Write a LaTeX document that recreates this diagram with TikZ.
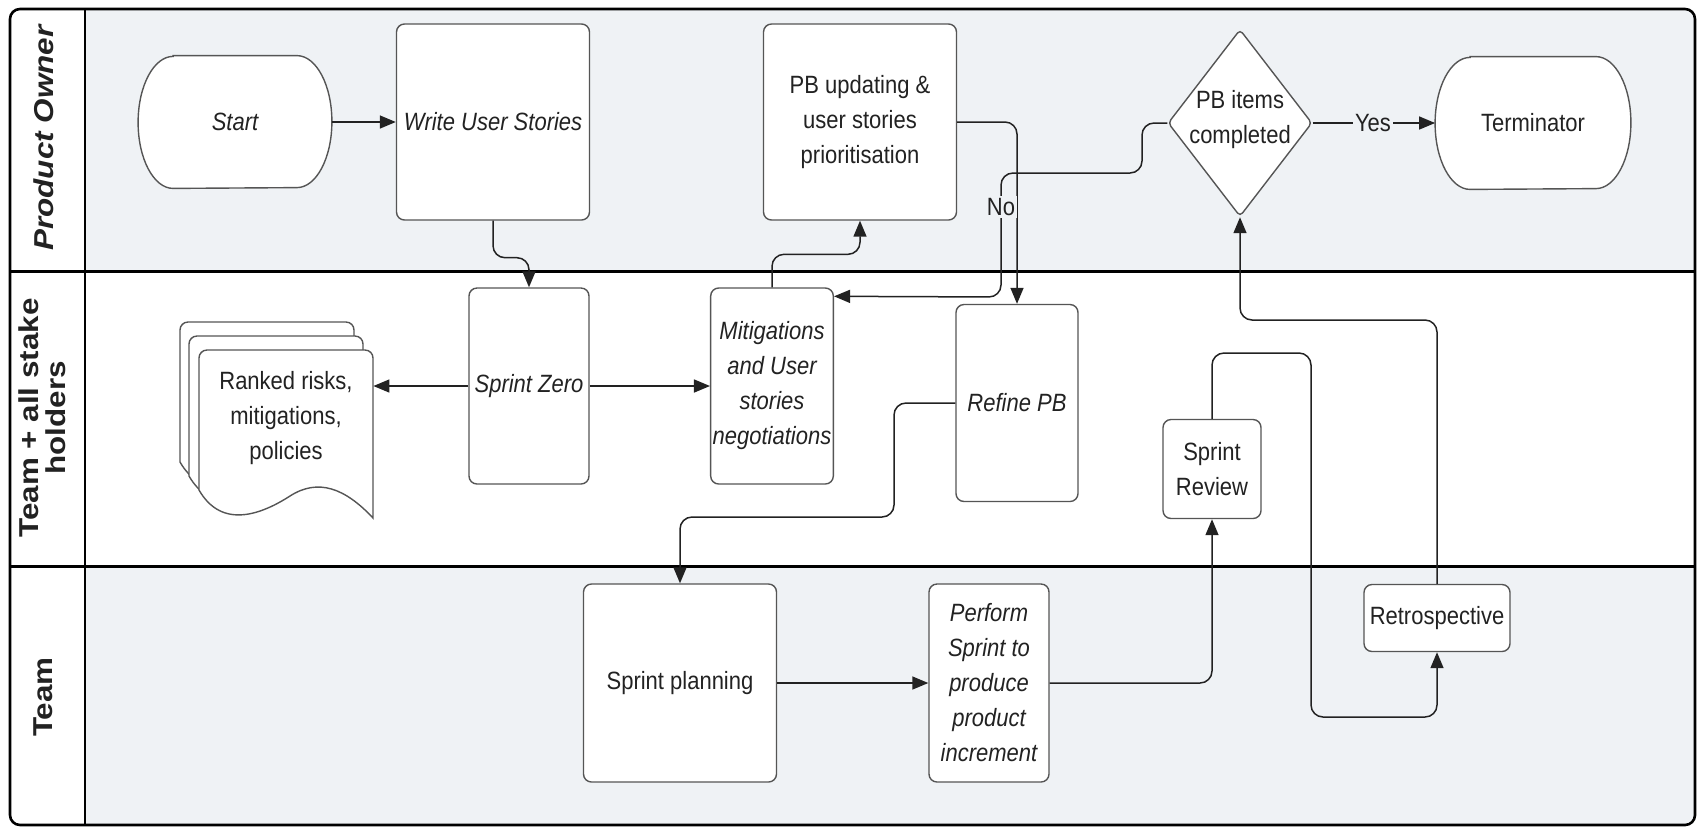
\documentclass[tikz,border=0pt]{standalone}
\usepackage{fontspec}
\setmainfont{Liberation Sans}[FakeStretch=0.88]
\newfontfamily\lanefont{Liberation Sans}
\usetikzlibrary{shapes.geometric,arrows.meta,calc}

\pgfdeclarelayer{lanes}
\pgfdeclarelayer{shapes}
\pgfsetlayers{lanes,shapes,main}

\definecolor{lanegray}{RGB}{239,242,245}
\definecolor{ink}{RGB}{34,34,34}
\definecolor{edge}{RGB}{85,85,85}

% lane titles are set a little flatter than the font's natural height
\newcommand\lanetitle[1]{\scalebox{1}[0.87]{\begin{tabular}{@{}c@{}}#1\end{tabular}}}

\begin{document}
\begin{tikzpicture}[x=0.5pt,y=0.5pt,
  txt/.style={font=\fontsize{12.5}{17.5}\selectfont, text=ink, align=center},
  ittxt/.style={font=\fontsize{12.5}{17.5}\selectfont\itshape, text=ink, align=center},
  box/.style={draw=edge, line width=0.7pt, fill=white, rounded corners=4pt, inner sep=1pt},
  termbox/.style={draw=none, inner sep=1pt},
  termline/.style={draw=edge, line width=0.7pt, fill=white},
  flow/.style={draw=ink, line width=0.75pt, rounded corners=6pt, -{Triangle[length=8pt,width=6.5pt]}},
  lbl/.style={txt, fill=lanegray, inner sep=1pt},
  lanehead/.style={rotate=90, text=ink, inner sep=0pt, font=\lanefont\fontsize{15.7}{14.5}\selectfont\bfseries},
]
\useasboundingbox (0,0) rectangle (1702,-827);

% ---------- swimlanes ----------
\begin{pgfonlayer}{lanes}
  \fill[white] (0,0) rectangle (1702,-827);
  \begin{scope}
    \clip[rounded corners=5pt] (10,-9) rectangle (1695,-825);
    \fill[lanegray] (85,-9) rectangle (1695,-271);
    \fill[lanegray] (85,-566) rectangle (1695,-825);
  \end{scope}
  \draw[line width=1.3pt, rounded corners=5pt] (10,-9) rectangle (1695,-825);
  \draw[line width=1pt] (85,-9) -- (85,-825);
  \draw[line width=1.5pt] (10,-271) -- (1695,-271);
  \draw[line width=1.5pt] (10,-566) -- (1695,-566);
\end{pgfonlayer}

\node[lanehead, font=\lanefont\fontsize{15.7}{14.5}\selectfont\bfseries\itshape] (laneA) at (47,-138) {\lanetitle{Product Owner}};
\node[lanehead] (laneB) at (46,-418) {\lanetitle{Team + all stake\\holders}};
\node[lanehead] (laneC) at (47,-697) {\lanetitle{Team}};

% ---------- Product Owner lane ----------
\node[termbox, ittxt, minimum width=96.5pt, minimum height=66pt] (start) at (235,-122) {Start};
\node[box, ittxt, minimum width=96.5pt, minimum height=98pt] (wus) at (493,-122) {Write User Stories};
\node[box, txt, minimum width=96.5pt, minimum height=98pt] (pbu) at (860,-122) {PB updating \&\\user stories\\prioritisation};
\node[diamond, draw=edge, fill=white, line width=0.7pt, rounded corners=2pt,
      minimum width=72pt, minimum height=93.5pt, inner sep=0pt] (dec) at (1240,-123) {};
\node[txt, inner sep=0pt] (dectext) at (1240,-120) {PB items\\completed};
\node[termbox, txt, minimum width=97.5pt, minimum height=66pt] (term) at (1533,-123) {Terminator};

% ---------- Team + all stake holders lane ----------
\node[draw=none, minimum width=87pt, minimum height=84pt, inner sep=0pt] (doc) at (286,-434) {};
\node[txt] (doctext) at (286,-418) {Ranked risks,\\mitigations,\\policies};
\node[box, ittxt, minimum width=60pt, minimum height=98pt] (sz) at (529,-386) {Sprint Zero};
\node[box, ittxt, minimum width=61pt, minimum height=98pt] (mit) at (772,-386) {Mitigations\\and User\\stories\\negotiations};
\node[box, ittxt, minimum width=61pt, minimum height=98.5pt] (ref) at (1017,-403) {Refine PB};
\node[box, txt, minimum width=49pt, minimum height=49.5pt] (srv) at (1212,-469) {Sprint\\Review};

% ---------- Team lane ----------
\node[box, txt, minimum width=96.5pt, minimum height=99pt] (spl) at (680,-683) {Sprint planning};
\node[box, ittxt, minimum width=60pt, minimum height=99pt] (per) at (989,-683) {Perform\\Sprint to\\produce\\product\\increment};
\node[box, txt, minimum width=73pt, minimum height=33.5pt] (ret) at (1437,-618) {Retrospective};

% ---------- outlines of terminals and documents ----------
\begin{pgfonlayer}{shapes}
  \foreach \n in {start,term}{
    \draw[termline] ($(\n.north west)+(17.5pt,0pt)$) -- ($(\n.north east)+(-17.5pt,0pt)$)
      arc[start angle=90, end angle=-90, x radius=17.5pt, y radius=33pt]
      -- ($(\n.south west)+(17.5pt,0pt)$)
      arc[start angle=270, end angle=90, x radius=17.5pt, y radius=33pt] -- cycle;
  }
  \foreach \dx/\dy in {-19/28, -10/14, 0/0}{
    \begin{scope}[shift={(\dx,\dy)}]
      \draw[termline] (199,-490) [rounded corners=4pt] -- (199,-350) -- (373,-350) [sharp corners] -- (373,-518)
        .. controls (345,-488) and (318,-478) .. (290,-496)
        .. controls (262,-514) and (222,-530) .. (199,-490) -- cycle;
    \end{scope}
  }
\end{pgfonlayer}

% ---------- connectors ----------
\draw[flow] (start) -- (wus);
\draw[flow] (wus.south) -- ++(0,-37) -| (sz.north);
\draw[flow] (sz) -- (doc.east |- sz);
\draw[flow] (sz) -- (mit);
\draw[flow] (mit.north) -- ++(0,33) -| (pbu.south);
\draw[flow] (pbu.east) -| (ref.north);
\draw[flow] (dec.west) -- (1142,-123) -- (1142,-173) -- (1001,-173) -- (1001,-297)
  -- ($(mit.north east)+(0,-9)$);
\node[lbl] (nolbl) at (1001,-207) {No};
\draw[flow] (dec.east) -- (term.west);
\node[lbl] (yeslbl) at (1373,-123) {Yes};
\draw[flow] (ref.west) -- (894,-403) -- (894,-517) -| (spl.north);
\draw[flow] (spl) -- (per);
\draw[flow] (per.east) -| (srv.south);
\draw[flow] (srv.north) -- (1212,-353) -- (1311,-353) -- (1311,-717) -| (ret.south);
\draw[flow] (ret.north) -- (1437,-320) -| (dec.south);
\end{tikzpicture}
\end{document}
